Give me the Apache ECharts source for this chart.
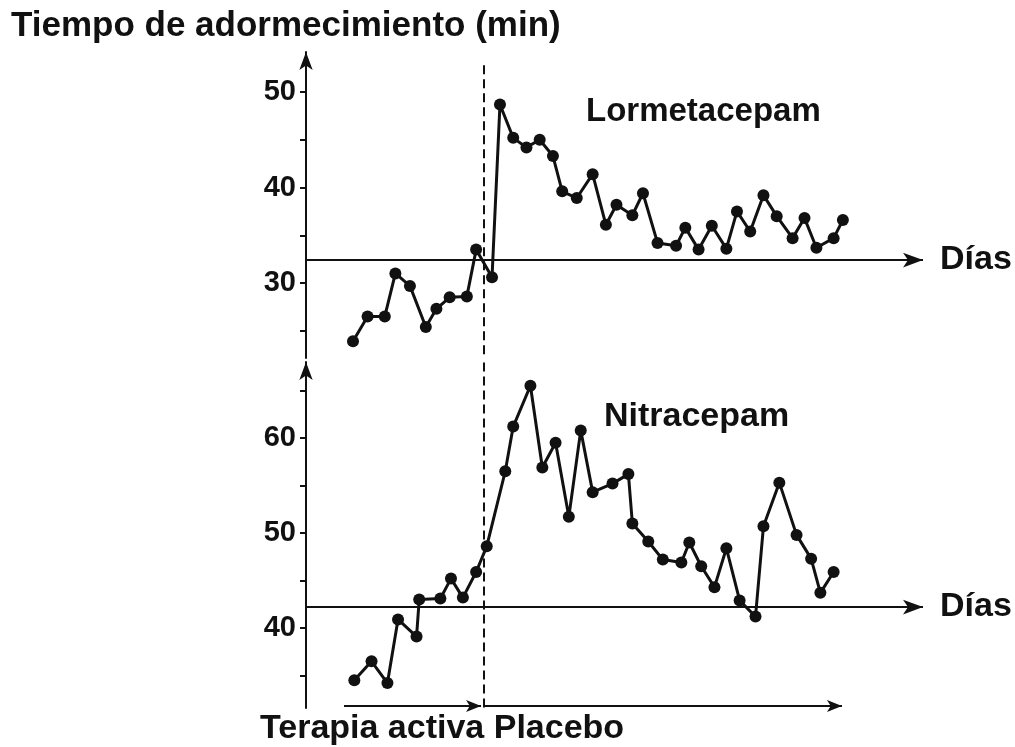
<!DOCTYPE html>
<html>
<head>
<meta charset="utf-8">
<script src="https://cdn.jsdelivr.net/npm/echarts@6/dist/echarts.min.js"></script>
<style>
  html, body { margin: 0; padding: 0; background: #fff; }
  #chart { width: 1015px; height: 747px; }
</style>
</head>
<body>
<div id="chart"></div>
<script>
// Lormetacepam: day of measurement and sleep latency (min)
const diasLorm = [1.0, 2.1, 3.4, 4.2, 5.3, 6.5, 7.3, 8.3, 9.6, 10.3,
  11.5, 12.1, 13.1, 14.1, 15.1, 16.1, 16.8, 17.9, 19.1, 20.1,
  20.9, 22.1, 22.9, 24.0, 25.4, 26.1, 27.1, 28.1, 29.2, 30.0,
  31.0, 32.0, 33.0, 34.2, 35.1, 36.0, 37.3, 38.0];
const valLorm = [23.9, 26.5, 26.5, 31.0, 29.7, 25.4, 27.3, 28.5, 28.6, 33.5,
  30.6, 48.7, 45.2, 44.2, 45.0, 43.3, 39.6, 38.9, 41.4, 36.1,
  38.2, 37.1, 39.4, 34.2, 33.9, 35.8, 33.5, 36.0, 33.6, 37.5,
  35.4, 39.2, 37.0, 34.7, 36.8, 33.7, 34.7, 36.6];

// Nitracepam: day of measurement and sleep latency (min)
const diasNitra = [1.1, 2.4, 3.6, 4.4, 5.8, 6.0, 7.6, 8.4, 9.3, 10.3,
  11.1, 12.5, 13.1, 14.4, 15.3, 16.3, 17.3, 18.2, 19.1, 20.6,
  21.8, 22.1, 23.3, 24.4, 25.8, 26.4, 27.3, 28.3, 29.2, 30.2,
  31.4, 32.0, 33.2, 34.5, 35.6, 36.3, 37.3];
const valNitra = [34.5, 36.5, 34.2, 40.9, 39.1, 43.0, 43.1, 45.2, 43.2, 45.9,
  48.6, 56.5, 61.2, 65.5, 56.9, 59.5, 51.7, 60.8, 54.3, 55.2,
  56.2, 51.0, 49.1, 47.2, 46.9, 49.0, 46.5, 44.3, 48.4, 42.9,
  41.2, 50.7, 55.3, 49.8, 47.3, 43.7, 45.9];

// Axis ticks and labels
const ticksLorm = [25, 30, 35, 40, 45, 50];
const etiqLorm = [30, 40, 50];
const ticksNitra = [35, 40, 45, 50, 55, 60, 65];
const etiqNitra = [40, 50, 60];

// Reference levels (the "Días" baselines) and treatment periods
const baseLorm = 32.4;
const baseNitra = 42.2;
const inicioPlacebo = 10.86;
const periodoActivo = [0.32, 10.67];
const periodoPlacebo = [10.97, 37.93];

// Axis extents
const diaMin = -2.55, diaMax = 44.05;
const lormMin = 22.15, lormMax = 54.19;
const nitraMin = 31.58, nitraMax = 68.0;
const nivelPeriodos = 31.8;

const INK = '#111';
const TXT = { fontFamily: 'Liberation Sans, Arial, sans-serif', fontWeight: 'bold', fontSize: 33, color: INK };
const NUM = { fontFamily: 'Liberation Sans, Arial, sans-serif', fontWeight: 'bold', fontSize: 29, color: INK };

function pares(xs, ys) { return xs.map((x, i) => [x, ys[i]]); }

function ejeY(idx, min, max, ticks, etiq) {
  return {
    type: 'value', gridIndex: idx, min: min, max: max,
    axisLine: { show: true, onZero: false, symbol: ['none', 'arrow'], symbolSize: [10, 18],
      lineStyle: { color: INK, width: 2 } },
    axisTick: { show: true, customValues: ticks, length: 6, lineStyle: { color: INK, width: 2 } },
    axisLabel: { show: true, customValues: etiq, margin: 10, ...NUM },
    splitLine: { show: false }
  };
}

function lineaDias(y) {
  return [
    { coord: [diaMin, y], symbol: 'none',
      label: { show: true, position: 'end', formatter: 'Días', distance: 17, ...TXT, fontSize: 34 } },
    { coord: [diaMax, y], symbol: 'arrow', symbolSize: [11, 20] }
  ];
}

function lineaCorte(y0, y1) {
  return [
    { coord: [inicioPlacebo, y0], symbol: 'none',
      lineStyle: { type: [9, 5], width: 2, color: INK }, label: { show: false } },
    { coord: [inicioPlacebo, y1], symbol: 'none' }
  ];
}

function flecha(x0, x1, y) {
  return [
    { coord: [x0, y], symbol: 'none', label: { show: false }, lineStyle: { width: 2, color: INK } },
    { coord: [x1, y], symbol: 'arrow', symbolSize: [9, 15] }
  ];
}

function serie(idx, xs, ys, marcas) {
  return {
    type: 'line', xAxisIndex: idx, yAxisIndex: idx,
    data: pares(xs, ys),
    symbol: 'circle', symbolSize: 12,
    lineStyle: { color: INK, width: 3 },
    itemStyle: { color: INK },
    markLine: {
      silent: true, animation: false, symbol: ['none', 'none'],
      lineStyle: { color: INK, width: 2, type: 'solid' },
      label: { show: false },
      data: marcas
    }
  };
}

const chart = echarts.init(document.getElementById('chart'), null, { renderer: 'canvas' });
chart.setOption({
  backgroundColor: '#fff',
  animation: false,
  title: [
    { text: 'Tiempo de adormecimiento (min)', left: 11, top: 9, padding: 0, textStyle: { ...TXT, fontSize: 35 } },
    { text: 'Lormetacepam', left: 586, top: 95, padding: 0, textStyle: TXT },
    { text: 'Nitracepam', left: 604, top: 400, padding: 0, textStyle: { ...TXT, fontSize: 34 } },
    { text: 'Terapia activa Placebo', left: 260, top: 712, padding: 0, textStyle: { ...TXT, fontSize: 34 } }
  ],
  grid: [
    { left: 306, top: 52, width: 617, height: 306 },
    { left: 306, top: 362, width: 617, height: 346 }
  ],
  xAxis: [
    { type: 'value', gridIndex: 0, min: diaMin, max: diaMax, show: false },
    { type: 'value', gridIndex: 1, min: diaMin, max: diaMax, show: false }
  ],
  yAxis: [
    ejeY(0, lormMin, lormMax, ticksLorm, etiqLorm),
    ejeY(1, nitraMin, nitraMax, ticksNitra, etiqNitra)
  ],
  series: [
    serie(0, diasLorm, valLorm, [
      lineaDias(baseLorm),
      lineaCorte(52.8, lormMin)
    ]),
    serie(1, diasNitra, valNitra, [
      lineaDias(baseNitra),
      lineaCorte(nitraMax - 0.05, nitraMin),
      flecha(periodoActivo[0], periodoActivo[1], nivelPeriodos),
      flecha(periodoPlacebo[0], periodoPlacebo[1], nivelPeriodos)
    ])
  ]
});
</script>
</body>
</html>
